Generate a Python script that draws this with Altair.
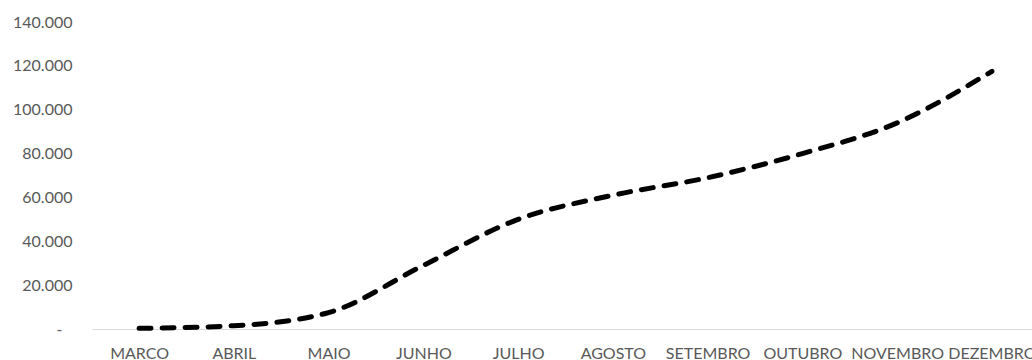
import altair as alt
import pandas as pd

months = ["MARCO", "ABRIL", "MAIO", "JUNHO", "JULHO", "AGOSTO",
          "SETEMBRO", "OUTUBRO", "NOVEMBRO", "DEZEMBRO"]
values = [300, 1500, 7500, 29000, 50000, 61000, 69000, 80000, 94000, 117500]
y_ticks = [0, 20000, 40000, 60000, 80000, 100000, 120000, 140000]

df = pd.DataFrame({"mes": months, "valor": values})

label_font = "Lato"
label_color = "#595959"

chart = alt.Chart(df).mark_line(
    color="black",
    strokeWidth=5,
    strokeDash=[12, 11],
    strokeCap="round",
    interpolate="monotone",
).encode(
    x=alt.X(
        "mes:N",
        sort=months,
        scale=alt.Scale(type="point", padding=0.46, align=0.54),
        axis=alt.Axis(
            title=None, ticks=False, grid=False, labelAngle=0,
            domainColor="#d9d9d9", domainWidth=1.2,
            labelFont=label_font, labelFontSize=16, labelColor=label_color,
            labelPadding=16, labelOverlap=False,
        ),
    ),
    y=alt.Y(
        "valor:Q",
        scale=alt.Scale(domain=[0, 140000], nice=False),
        axis=alt.Axis(
            title=None, ticks=False, grid=False, domain=False,
            values=y_ticks,
            labelExpr="datum.value == 0 ? '-' : replace(format(datum.value, ','), ',', '.')",
            labelFont=label_font, labelFontSize=16, labelColor=label_color,
            labelPadding={"condition": {"test": "datum.value == 0", "value": 30}, "value": 20},
        ),
    ),
).properties(
    width=940,
    height=307,
    autosize=alt.AutoSizeParams(type="none"),
    padding={"left": 92, "top": 22, "right": 0, "bottom": 31},
).configure_view(stroke=None)

chart.save("out.html", embed_options={"renderer": "svg", "actions": False})
